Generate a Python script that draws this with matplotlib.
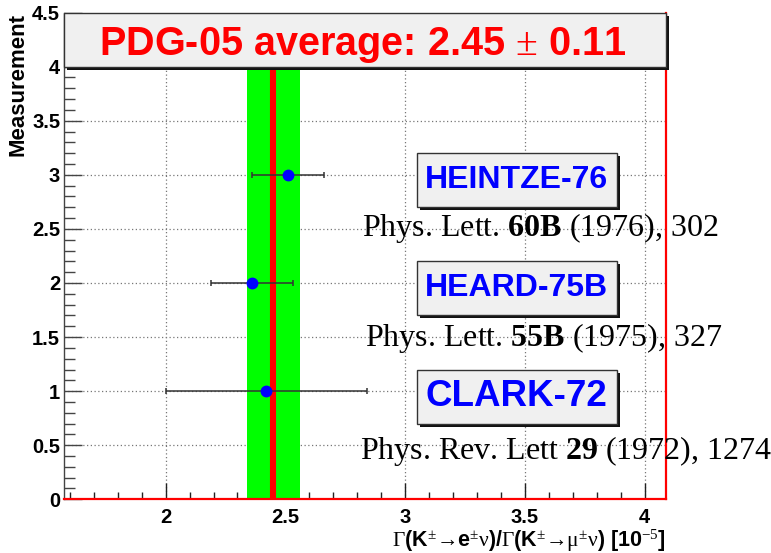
import matplotlib
matplotlib.use('Agg')
import matplotlib.pyplot as plt
import matplotlib.transforms as mtransforms
from matplotlib.patches import Rectangle
from matplotlib.ticker import MultipleLocator

plt.rcParams['font.family'] = ['Liberation Sans', 'DejaVu Sans']
plt.rcParams['mathtext.fontset'] = 'custom'
plt.rcParams['mathtext.rm'] = 'Liberation Serif'
plt.rcParams['mathtext.it'] = 'Liberation Serif:italic'
plt.rcParams['mathtext.bf'] = 'Liberation Serif:bold'

# ---------------- data ----------------
experiments = ['CLARK-72', 'HEARD-75B', 'HEINTZE-76']
references = [r'Phys. Rev. Lett $\mathbf{29}$ (1972), 1274',
              r'Phys. Lett. $\mathbf{55B}$ (1975), 327',
              r'Phys. Lett. $\mathbf{60B}$ (1976), 302']
measurement = [1, 2, 3]
values = [2.42, 2.36, 2.51]
errors = [0.42, 0.17, 0.15]
average = 2.45
average_err = 0.11
title_text = r'PDG-05 average: 2.45 $\pm$ 0.11'
xticks = [2.0, 2.5, 3.0, 3.5, 4.0]
xtick_labels = ['2', '2.5', '3', '3.5', '4']
yticks = [0, 0.5, 1, 1.5, 2, 2.5, 3, 3.5, 4, 4.5]
ytick_labels = ['0', '0.5', '1', '1.5', '2', '2.5', '3', '3.5', '4', '4.5']

# ---------------- layout ----------------
W, H = 771, 553
fig = plt.figure(figsize=(W / 100, H / 100), dpi=100)
ax = fig.add_axes([64.3 / W, 1 - 499.3 / H, (666 - 64.3) / W, (499.3 - 12.6) / H])
ax.set_xlim(1.577, 4.089)
ax.set_ylim(0, 4.5)

# grid
ax.set_axisbelow(True)
ax.grid(True, which='major', color='#777777', linestyle=(0, (1, 2)), lw=0.9)

# average band and line
ax.axvspan(average - average_err, average + average_err, ymin=0, ymax=4 / 4.5,
           color='#00ff00', zorder=1, lw=0)
ax.plot([average, average], [0, 4], color='#ff0000', lw=4.4, zorder=2,
        solid_capstyle='butt')

# measurements
ax.errorbar(values, measurement, xerr=errors, fmt='o', color='#0000ff', ms=7.5,
            ecolor='#333333', elinewidth=1.1, capsize=2.2, capthick=1.1, zorder=3)

# ticks
ax.set_xticks(xticks)
ax.set_xticklabels(xtick_labels, fontweight='bold', fontsize=14.5)
ax.set_yticks(yticks)
ax.set_yticklabels(ytick_labels, fontweight='bold', fontsize=14.5)
ax.xaxis.set_minor_locator(MultipleLocator(0.1))
ax.yaxis.set_minor_locator(MultipleLocator(0.1))
ax.tick_params(axis='x', which='major', direction='in', length=11.5, width=1,
               color='#222222', pad=6)
ax.tick_params(axis='x', which='minor', direction='in', length=5, width=1,
               color='#222222')
ax.tick_params(axis='y', which='major', direction='in', length=13, width=1,
               color='#444444', pad=3)
ax.tick_params(axis='y', which='minor', direction='in', length=8, width=1,
               color='#444444')

for s in ['bottom', 'right']:
    ax.spines[s].set_color('#ff0000')
    ax.spines[s].set_linewidth(1.6)
    ax.spines[s].set_zorder(2.5)
ax.spines['left'].set_color('#444444')
ax.spines['left'].set_linewidth(1.0)
ax.spines['top'].set_visible(False)

# shadowed boxes
def shadow_box(x0, y0, w, h, transform, z):
    sh_tr = mtransforms.offset_copy(transform, fig=fig, x=3, y=-3, units='dots')
    ax.add_patch(Rectangle((x0, y0), w, h, transform=sh_tr, facecolor='#111111',
                           edgecolor='none', zorder=z - 0.1, clip_on=False))
    ax.add_patch(Rectangle((x0, y0), w, h, transform=transform, facecolor='#f0f0f0',
                           edgecolor='#333333', lw=1, zorder=z, clip_on=False))

label_sizes = [26.5, 23, 23]
ref_x = [3.67, 3.58, 3.565]
ref_y = [0.45, 1.49, 2.51]
for i, (name, ref, m) in enumerate(zip(experiments, references, measurement)):
    shadow_box(3.05, m - 0.3, 0.833, 0.5, ax.transData, 4)
    ax.text(3.465, m - 0.05, name, color='#0000ff', fontweight='bold',
            fontsize=label_sizes[i], ha='center', va='center', zorder=5)
    ax.text(ref_x[i], ref_y[i], ref, family='Liberation Serif', fontsize=23,
            color='black', ha='center', va='center', zorder=5, clip_on=False)

# title box
blend = mtransforms.blended_transform_factory(ax.transAxes, ax.transData)
shadow_box(0.0, 4.0, 1.0, 0.5, blend, 6)
ax.text(0.495, 4.11, title_text, transform=blend, color='#ff0000',
        fontweight='bold', fontsize=28.5, ha='center', va='baseline', zorder=7)

# axis titles
fig.text(18 / W, 1 - 12.5 / H, 'Measurement', rotation=90, ha='center', va='top',
         fontweight='bold', fontsize=16)
xlabel = (r'$\Gamma$(K$^{\pm}$→e$^{\pm}\mathrm{\nu}$)/'
          r'$\Gamma$(K$^{\pm}$→$\mathrm{\mu}^{\pm}\mathrm{\nu}$) [10$^{-5}$]')
fig.text(666 / W, 1 - 547 / H, xlabel, ha='right', va='baseline',
         fontweight='bold', fontsize=15.5)

fig.savefig('out.png', dpi=100, facecolor='white')
